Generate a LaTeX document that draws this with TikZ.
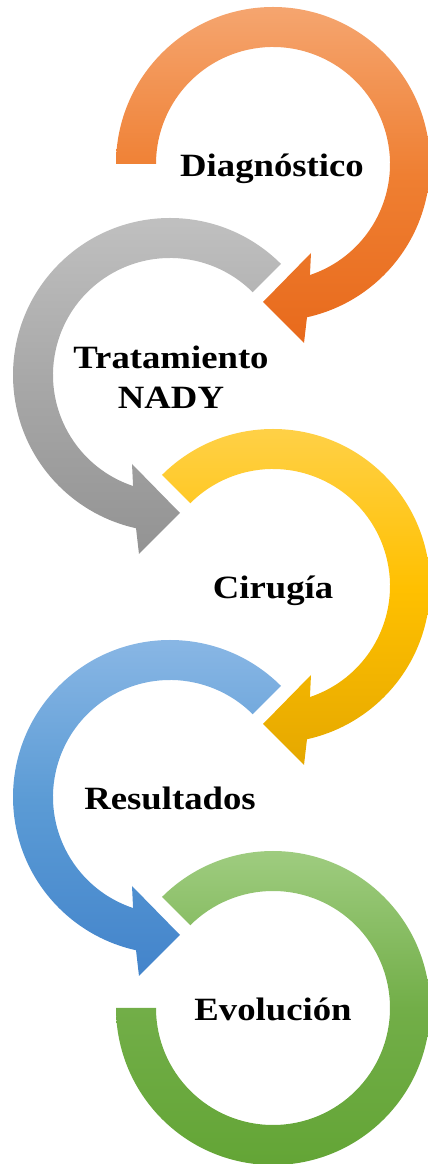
\documentclass[tikz,border=0pt]{standalone}
\usepackage{fontspec}
\setmainfont{Liberation Serif}[FakeStretch=1.13]
\usetikzlibrary{positioning}
\definecolor{orangetop}{HTML}{F5A56F}
\definecolor{orangemid}{HTML}{EF7F32}
\definecolor{orangebot}{HTML}{E86A1C}
\definecolor{graytop}{HTML}{C2C2C2}
\definecolor{graymid}{HTML}{A8A8A8}
\definecolor{graybot}{HTML}{939393}
\definecolor{goldtop}{HTML}{FFD24D}
\definecolor{goldmid}{HTML}{FFC000}
\definecolor{goldbot}{HTML}{E5A800}
\definecolor{bluetop}{HTML}{8DB9E6}
\definecolor{bluemid}{HTML}{5B9BD5}
\definecolor{bluebot}{HTML}{4384CB}
\definecolor{greentop}{HTML}{A3CF85}
\definecolor{greenmid}{HTML}{72AE48}
\definecolor{greenbot}{HTML}{62A434}

\begin{document}
\begin{tikzpicture}[
  x=0.02cm, y=0.02cm,
  ring/.style={draw=none},
  stage/.style={font=\bfseries\fontsize{18.5}{22.7}\selectfont, align=center, text=black, inner sep=0pt},
]
  \useasboundingbox (0,0) rectangle (428,1164);

  % rings, top to bottom
  \begin{scope}[shift={(273,1000)}]
    \path[ring, top color=orangetop, bottom color=orangebot, middle color=orangemid]
      (180:157) arc[start angle=180, end angle=-77.5, radius=157]
      -- (31,-179) -- (-10,-138) -- (38,-89) -- (-71.6:117)
      arc[start angle=-71.6, end angle=180, radius=117] -- cycle;
  \end{scope}
  \begin{scope}[shift={(170,789)}]
    \path[ring, top color=graytop, bottom color=graybot, middle color=graymid]
      (45:157) arc[start angle=45, end angle=257.5, radius=157]
      -- (-31,-179) -- (10,-138) -- (-38,-89) -- (251.6:117)
      arc[start angle=251.6, end angle=45, radius=117] -- cycle;
  \end{scope}
  \begin{scope}[shift={(273,578)}]
    \path[ring, top color=goldtop, bottom color=goldbot, middle color=goldmid]
      (135:157) arc[start angle=135, end angle=-77.5, radius=157]
      -- (31,-179) -- (-10,-138) -- (38,-89) -- (-71.6:117)
      arc[start angle=-71.6, end angle=135, radius=117] -- cycle;
  \end{scope}
  \begin{scope}[shift={(170,367)}]
    \path[ring, top color=bluetop, bottom color=bluebot, middle color=bluemid]
      (45:157) arc[start angle=45, end angle=257.5, radius=157]
      -- (-31,-179) -- (10,-138) -- (-38,-89) -- (251.6:117)
      arc[start angle=251.6, end angle=45, radius=117] -- cycle;
  \end{scope}
  \begin{scope}[shift={(273,156)}]
    \path[ring, top color=greentop, bottom color=greenbot, middle color=greenmid]
      (135:157) arc[start angle=135, end angle=-180, radius=157]
      -- (180:117) arc[start angle=-180, end angle=135, radius=117] -- cycle;
  \end{scope}

  % labels
  \node[stage, anchor=base] (diag) at (272,987) {Diagnóstico};
  \node[stage] (trat) at (171,787) {Tratamiento\\NADY};
  \node[stage, anchor=base] (ciru) at (273,565) {Cirugía};
  \node[stage, anchor=base] (resu) at (170,354) {Resultados};
  \node[stage, anchor=base] (evol) at (273,143) {Evolución};
\end{tikzpicture}
\end{document}
